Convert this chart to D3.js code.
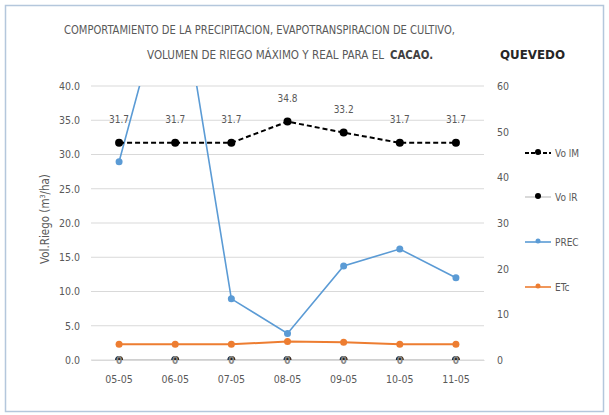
<!DOCTYPE html>
<html><head><meta charset="utf-8">
<script src="https://cdn.jsdelivr.net/npm/d3@7/dist/d3.min.js"></script>
<style>body{margin:0;background:#fff}svg{display:block}text{font-family:'DejaVu Sans Condensed','DejaVu Sans',sans-serif;font-stretch:condensed;fill:#595959}</style>
</head><body><svg id="c" width="609" height="415"></svg>
<script>
const categories = ["05-05","06-05","07-05","08-05","09-05","10-05","11-05"];
const volM = [31.7,31.7,31.7,34.8,33.2,31.7,31.7];
const volR = [0,0,0,0,0,0,0];
const prec = [43.4,89,13.4,5.8,20.6,24.3,18.0];
const etc = [2.3,2.3,2.3,2.7,2.6,2.3,2.3];
const leftTicks = [0,5,10,15,20,25,30,35,40];
const rightTicks = [0,10,20,30,40,50,60];
const FONT = "'DejaVu Sans Condensed','DejaVu Sans',sans-serif";

const svg = d3.select("#c");
svg.append("rect").attr("x",5.5).attr("y",5.5).attr("width",598).attr("height",406)
  .attr("fill","#fff").attr("stroke","#b4c7dc").attr("stroke-width",1.5);

const L=91,R=484,T=86,B=360;
const x = d3.scaleBand().domain(categories).range([L,R]);
const cx = d=>x(d)+x.bandwidth()/2;
const yL = d3.scaleLinear().domain([0,40]).range([B,T]);
const yR = d3.scaleLinear().domain([0,60]).range([B,T]);

svg.append("g").selectAll("line").data(leftTicks).join("line")
  .attr("x1",L).attr("x2",R).attr("y1",d=>yL(d)).attr("y2",d=>yL(d))
  .attr("stroke","#d9d9d9").attr("stroke-width",1);

function styleAxis(g){
  g.selectAll("text").attr("font-size",10.5).style("font-family",FONT).style("font-stretch","condensed").attr("fill","#595959");
}
const gl = svg.append("g").attr("transform",`translate(${L},0)`)
  .call(d3.axisLeft(yL).tickValues(leftTicks).tickFormat(d3.format(".1f")).tickSize(0).tickPadding(11));
gl.select(".domain").remove(); styleAxis(gl);
const gr = svg.append("g").attr("transform",`translate(${R},0)`)
  .call(d3.axisRight(yR).tickValues(rightTicks).tickSize(0).tickPadding(13));
gr.select(".domain").remove(); styleAxis(gr);
const gx = svg.append("g").attr("transform",`translate(0,${B})`)
  .call(d3.axisBottom(x).tickSize(0).tickPadding(16));
gx.select(".domain").attr("stroke","#d9d9d9"); styleAxis(gx);

svg.append("text").attr("transform","translate(49,219) rotate(-90)").attr("text-anchor","middle")
  .attr("font-size",11.5).html('Vol.Riego (m<tspan baseline-shift="super" font-size="7">3</tspan>/ha)');

svg.append("defs").append("clipPath").attr("id","pc").append("rect")
  .attr("x",L).attr("y",T).attr("width",R-L).attr("height",B-T);
const plot = svg.append("g").attr("clip-path","url(#pc)");

function series(vals, y, color, width, dash){
  plot.append("path").datum(vals).attr("fill","none").attr("stroke",color).attr("stroke-width",width)
    .attr("stroke-dasharray",dash||null)
    .attr("d",d3.line().x((d,i)=>cx(categories[i])).y(d=>y(d)));
}
series(etc,yL,"#ed7d31",2);
series(volR,yL,"#d0d0d0",2);
series(prec,yR,"#5b9bd5",1.6);
series(volM,yL,"#000",2,"5,3");

function markers(vals,y,color,r){
  plot.append("g").selectAll("circle").data(vals).join("circle")
    .attr("cx",(d,i)=>cx(categories[i])).attr("cy",d=>y(d)).attr("r",r).attr("fill",color);
}
markers(etc,yL,"#ed7d31",3.5);
markers(prec,yR,"#5b9bd5",3.5);
markers(volM,yL,"#000",4);
markers(volR,yL,"#222",4);
svg.append("g").selectAll("text").data(volR).join("text")
  .attr("x",(d,i)=>cx(categories[i])).attr("y",d=>yL(d)+3.5).attr("text-anchor","middle")
  .attr("font-size",10).attr("font-weight","bold").style("fill","#888").text(d=>d);
svg.append("g").selectAll("text").data(volM).join("text")
  .attr("x",(d,i)=>cx(categories[i])).attr("y",d=>yL(d)-20).attr("text-anchor","middle")
  .attr("font-size",10).text(d=>d.toFixed(1));

const legend = [
  {name:"Vo lM",color:"#000",dash:"4,2",mk:"#000",y:153},
  {name:"Vo lR",color:"#d0d0d0",dash:null,mk:"#000",y:197},
  {name:"PREC",color:"#5b9bd5",dash:null,mk:"#5b9bd5",y:242},
  {name:"ETc",color:"#ed7d31",dash:null,mk:"#ed7d31",y:287}
];
const lg = svg.append("g");
legend.forEach(l=>{
  lg.append("line").attr("x1",525).attr("x2",551).attr("y1",l.y).attr("y2",l.y)
    .attr("stroke",l.color).attr("stroke-width",l.dash?2:1.6).attr("stroke-dasharray",l.dash);
  lg.append("circle").attr("cx",538).attr("cy",l.y-1).attr("r",l.mk==="#000"?3:2.5).attr("fill",l.mk);
  lg.append("text").attr("x",555).attr("y",l.y+4).attr("font-size",10).text(l.name);
});

svg.append("text").attr("x",64).attr("y",34).attr("font-size",11.5)
  .attr("textLength",391).attr("lengthAdjust","spacingAndGlyphs")
  .text("COMPORTAMIENTO DE LA PRECIPITACION, EVAPOTRANSPIRACION DE CULTIVO,");
svg.append("text").attr("x",147).attr("y",59).attr("font-size",11.5)
  .attr("textLength",237).attr("lengthAdjust","spacingAndGlyphs")
  .text("VOLUMEN DE RIEGO MÁXIMO Y REAL PARA EL");
svg.append("text").attr("x",390).attr("y",59).attr("font-size",11.5).attr("font-weight","bold").style("fill","#404040")
  .attr("textLength",43).attr("lengthAdjust","spacingAndGlyphs").text("CACAO.");
svg.append("text").attr("x",500).attr("y",59).attr("font-size",12)
  .attr("textLength",65).attr("lengthAdjust","spacingAndGlyphs")
  .attr("font-weight","bold").style("fill","#262626").text("QUEVEDO");
</script></body></html>
